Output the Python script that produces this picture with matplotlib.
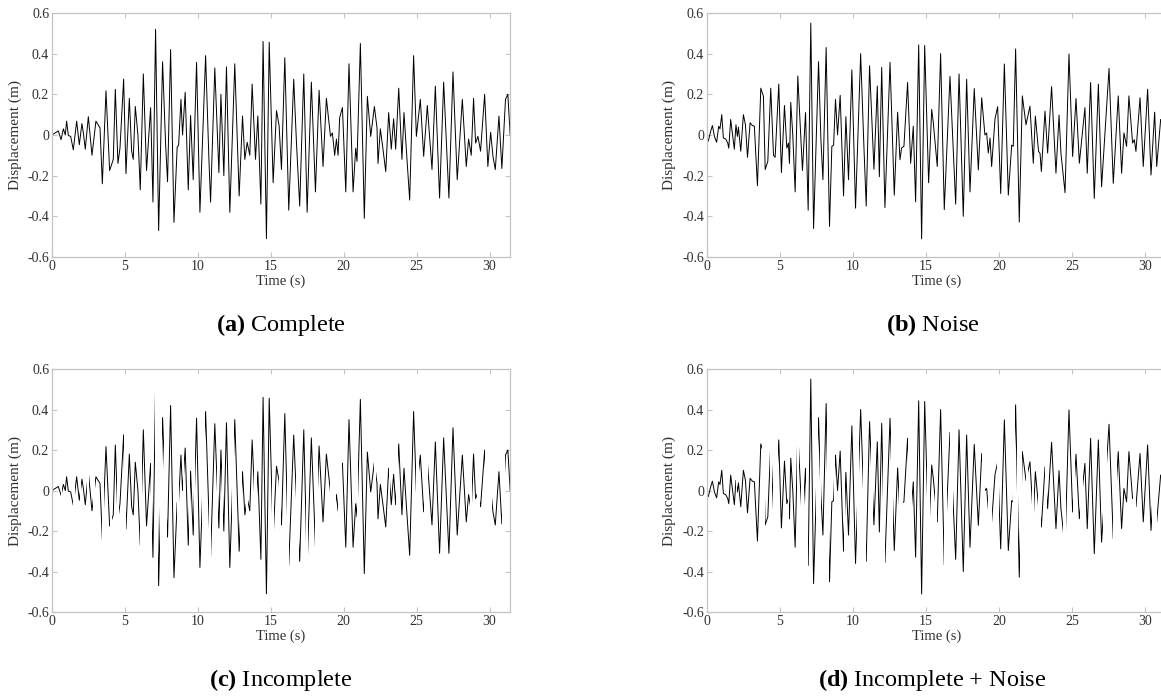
import numpy as np
import matplotlib
matplotlib.use('Agg')
import matplotlib.pyplot as plt
from matplotlib.path import Path

# displacement record, complete (turning points)
t_complete = [0.0, 0.21, 0.43, 0.62, 0.78, 0.91, 1.0, 1.12, 1.28, 1.46,
              1.69, 1.87, 2.05, 2.15, 2.28, 2.49, 2.74, 3.01, 3.29, 3.45,
              3.70, 3.95, 4.2, 4.34, 4.52, 4.66, 4.91, 5.07, 5.30, 5.46,
              5.57, 5.71, 5.89, 6.05, 6.26, 6.48, 6.76, 6.92, 7.10, 7.31,
              7.58, 7.79, 7.92, 8.13, 8.36, 8.58, 8.68, 8.84, 8.95, 9.13,
              9.34, 9.5, 9.68, 9.91, 10.14, 10.53, 10.75, 10.87, 11.16, 11.44,
              11.58, 11.78, 11.96, 12.19, 12.53, 12.83, 13.06, 13.22, 13.38, 13.56,
              13.72, 13.95, 14.11, 14.32, 14.47, 14.70, 14.89, 15.16, 15.39, 15.57,
              15.73, 15.96, 16.23, 16.57, 16.76, 16.98, 17.26, 17.49, 17.78, 18.06,
              18.31, 18.58, 18.81, 19.09, 19.22, 19.38, 19.5, 19.61, 19.72, 19.91,
              20.14, 20.36, 20.64, 20.82, 20.91, 21.14, 21.41, 21.62, 21.85, 22.1,
              22.28, 22.35, 22.51, 22.69, 22.88, 23.08, 23.26, 23.42, 23.56, 23.77,
              23.99, 24.13, 24.29, 24.52, 24.79, 24.98, 25.25, 25.48, 25.73, 26.05,
              26.28, 26.57, 26.85, 27.21, 27.49, 27.78, 28.13, 28.4, 28.56, 28.74,
              28.9, 29.04, 29.2, 29.38, 29.66, 29.88, 30.07, 30.23, 30.39, 30.64,
              30.84, 31.09, 31.25, 31.41]
d_complete = [0.0, 0.01, 0.02, -0.023, 0.03, 0.0, 0.068, -0.003, -0.007, -0.073,
              0.068, -0.048, 0.056, 0.01, -0.07, 0.09, -0.10, 0.068, 0.035, -0.24,
              0.217, -0.175, -0.12, 0.225, -0.14, -0.065, 0.275, -0.19, 0.18, -0.08,
              -0.12, 0.14, 0.0, -0.27, 0.30, -0.175, 0.134, -0.33, 0.52, -0.47,
              0.36, -0.05, -0.23, 0.42, -0.43, -0.06, -0.05, 0.175, 0.0, 0.21,
              -0.27, 0.096, -0.22, 0.357, -0.38, 0.39, -0.106, -0.33, 0.33, -0.185,
              0.20, -0.2, 0.335, -0.38, 0.35, -0.30, 0.093, -0.12, -0.036, -0.1,
              0.25, -0.12, 0.093, -0.34, 0.46, -0.51, 0.456, -0.235, 0.12, 0.045,
              -0.17, 0.38, -0.37, 0.274, -0.04, -0.35, 0.30, -0.38, 0.26, -0.28,
              0.22, -0.155, 0.18, -0.007, 0.01, -0.10, -0.02, -0.10, 0.085, 0.135,
              -0.28, 0.35, -0.28, -0.065, -0.13, 0.45, -0.41, 0.19, -0.007, 0.14,
              0.035, -0.14, 0.03, -0.07, -0.18, 0.11, -0.07, 0.08, -0.07, 0.23,
              -0.12, 0.11, -0.07, -0.32, 0.39, -0.007, 0.175, -0.105, 0.145, -0.17,
              0.24, -0.31, 0.26, -0.31, 0.31, -0.22, 0.175, -0.155, -0.02, -0.10,
              0.18, -0.04, -0.007, -0.08, 0.2, -0.155, 0.013, -0.105, -0.17, 0.093,
              -0.165, 0.175, 0.2, 0.0]

# displacement record with noise (panel b)
t_noise = [0.0, 0.11, 0.27, 0.39, 0.53, 0.68, 0.82, 0.91, 1.03, 1.14,
           1.3, 1.44, 1.51, 1.64, 1.78, 1.89, 2.0, 2.1, 2.17, 2.33,
           2.51, 2.65, 2.79, 2.97, 3.13, 3.26, 3.47, 3.7, 3.88, 4.0,
           4.18, 4.38, 4.57, 4.68, 4.93, 5.11, 5.32, 5.48, 5.59, 5.66,
           5.75, 5.89, 6.05, 6.23, 6.55, 6.76, 6.94, 7.12, 7.31, 7.65,
           7.81, 7.95, 8.17, 8.4, 8.56, 8.68, 8.81, 8.95, 9.13, 9.36,
           9.52, 9.7, 9.93, 10.18, 10.53, 10.75, 10.91, 11.14, 11.44, 11.67,
           11.81, 11.97, 12.19, 12.54, 12.83, 13.06, 13.22, 13.33, 13.49, 13.74,
           13.95, 14.13, 14.29, 14.50, 14.70, 14.91, 15.18, 15.39, 15.50, 15.77,
           16.0, 16.25, 16.64, 17.03, 17.26, 17.55, 17.78, 18.01, 18.30, 18.58,
           18.81, 19.03, 19.15, 19.26, 19.38, 19.49, 19.72, 19.90, 20.11, 20.36,
           20.63, 20.86, 20.97, 21.13, 21.38, 21.59, 21.84, 22.11, 22.34, 22.48,
           22.70, 22.80, 22.89, 23.14, 23.32, 23.59, 23.89, 24.10, 24.23, 24.51,
           24.78, 25.03, 25.26, 25.49, 25.87, 26.03, 26.26, 26.51, 26.79, 27.01,
           27.52, 27.81, 28.15, 28.38, 28.54, 28.72, 28.88, 29.13, 29.25, 29.36,
           29.64, 29.86, 30.16, 30.39, 30.64, 30.78, 31.05]
d_noise = [-0.023, -0.03, 0.018, 0.046, -0.007, -0.036, 0.043, 0.03, 0.10, -0.015,
           -0.02, -0.04, -0.065, 0.076, -0.007, -0.07, 0.05, -0.007, 0.038, -0.08,
           0.10, 0.05, -0.11, 0.06, 0.046, 0.043, -0.25, 0.23, 0.19, -0.17,
           -0.13, 0.23, -0.10, -0.11, 0.25, -0.185, 0.145, -0.065, -0.04, -0.14,
           0.16, -0.003, -0.28, 0.29, -0.175, 0.11, -0.37, 0.55, -0.46, 0.36,
           -0.02, -0.22, 0.43, -0.45, -0.056, -0.05, 0.175, 0.0, 0.195, -0.30,
           0.09, -0.22, 0.32, -0.36, 0.40, -0.05, -0.35, 0.34, -0.169, 0.241,
           -0.205, 0.332, -0.357, 0.357, -0.296, 0.112, -0.122, -0.064, -0.056, 0.258,
           -0.139, 0.043, -0.329, 0.443, -0.511, 0.44, -0.235, 0.126, 0.06, -0.155,
           0.40, -0.367, 0.288, -0.34, 0.30, -0.40, 0.274, -0.28, 0.228, -0.172,
           0.183, 0.0, 0.01, -0.089, -0.015, -0.155, 0.079, 0.139, -0.288, 0.349,
           -0.296, -0.05, -0.056, 0.423, -0.428, 0.192, 0.05, 0.142, -0.139, 0.093,
           -0.081, -0.09, -0.18, 0.117, -0.089, 0.238, -0.188, 0.098, -0.089, -0.284,
           0.398, -0.106, 0.179, -0.139, 0.134, -0.188, 0.258, -0.312, 0.25, -0.255,
           0.327, -0.238, 0.192, -0.188, 0.01, -0.056, 0.192, -0.04, -0.023, -0.081,
           0.183, -0.155, 0.225, -0.197, 0.112, -0.155, 0.076]

# missing stretches (s) in the incomplete records
gaps_incomplete = [(0.62, 0.68), (1.42, 1.55), (1.92, 2.01), (2.42, 2.51), (2.83, 2.95),
                   (3.42, 3.56), (3.97, 4.11), (4.43, 4.57), (4.95, 5.07), (6.03, 6.14),
                   (6.76, 6.85), (7.07, 7.24), (7.40, 7.51), (7.67, 7.85), (8.54, 8.70),
                   (8.95, 9.06), (9.36, 9.45), (9.73, 9.82), (10.27, 10.46), (10.75, 10.87),
                   (11.28, 11.39), (11.62, 11.74), (12.37, 12.47), (12.88, 13.01), (13.33, 13.47),
                   (13.88, 14.02), (15.05, 15.20), (15.57, 15.73), (16.12, 16.25), (16.76, 16.94),
                   (17.44, 17.58), (18.06, 18.24), (19.04, 19.45), (19.61, 19.88), (20.91, 21.0),
                   (22.05, 22.24), (23.08, 23.20), (23.56, 23.72), (24.98, 25.16), (25.48, 25.77),
                   (28.63, 28.81), (29.13, 29.36), (29.66, 29.86), (29.90, 30.18), (30.84, 31.05)]
gaps_incomplete_noise = [(2.02, 2.08), (3.81, 3.98), (4.34, 4.45), (4.52, 4.90), (5.55, 5.62),
                         (6.16, 6.28), (6.48, 6.67), (6.82, 6.94), (7.45, 7.60), (7.72, 7.80),
                         (8.25, 8.38), (8.70, 8.78), (9.40, 9.48), (10.30, 10.44), (10.71, 10.89),
                         (11.21, 11.35), (12.08, 12.22), (12.60, 12.76), (13.17, 13.40), (13.79, 14.02),
                         (15.09, 15.27), (15.61, 15.77), (16.23, 16.41), (16.64, 16.82), (18.81, 19.03),
                         (19.26, 19.49), (19.83, 19.99), (20.93, 21.09), (21.20, 21.31), (21.45, 21.59),
                         (21.84, 22.0), (22.23, 22.41), (22.68, 22.84), (23.14, 23.25), (24.39, 24.57),
                         (25.03, 25.19), (25.53, 25.76), (27.13, 27.36), (27.81, 28.04), (29.18, 29.36),
                         (30.43, 30.78)]

captions = [r'$\mathbf{(a)}$ Complete', r'$\mathbf{(b)}$ Noise',
            r'$\mathbf{(c)}$ Incomplete', r'$\mathbf{(d)}$ Incomplete + Noise']
x_ticks = [0, 5, 10, 15, 20, 25, 30]
y_ticks = [-0.6, -0.4, -0.2, 0, 0.2, 0.4, 0.6]

plt.rcParams['font.family'] = 'Liberation Serif'
plt.rcParams['mathtext.fontset'] = 'custom'
plt.rcParams['mathtext.rm'] = 'Liberation Serif'
plt.rcParams['mathtext.bf'] = 'Liberation Serif:bold'
plt.rcParams['axes.unicode_minus'] = False

GRAY = '#c4c4c4'
TXT = '#303030'


def kept_region(gaps, t_end=40.0):
    # rectangles covering the parts of the record that were kept
    edges = [-1.0] + [g for pair in gaps for g in pair] + [t_end]
    verts, codes = [], []
    for a, b in zip(edges[0::2], edges[1::2]):
        verts += [(a, -1), (b, -1), (b, 1), (a, 1), (a, -1)]
        codes += [Path.MOVETO, Path.LINETO, Path.LINETO, Path.LINETO, Path.CLOSEPOLY]
    return Path(verts, codes)


def panel(rect, t, d, caption, cap_xy, gaps=None):
    ax = fig.add_axes(rect)
    line, = ax.plot(t, d, color='black', lw=0.7)
    if gaps is not None:
        line.set_clip_path(kept_region(gaps), ax.transData)
    ax.set_xlim(0, 31.4)
    ax.set_ylim(-0.6, 0.6)
    ax.set_xticks(x_ticks)
    ax.set_yticks(y_ticks)
    ax.set_yticklabels(['%g' % v for v in y_ticks])
    ax.tick_params(direction='in', length=3.5, width=0.8, color=GRAY,
                   labelcolor=TXT, labelsize=10, top=True, right=True, pad=2)
    for s in ax.spines.values():
        s.set_color(GRAY)
        s.set_linewidth(0.9)
    ax.set_xlabel('Time (s)', fontsize=10.5, color=TXT, labelpad=1)
    ax.set_ylabel('Displacement (m)', fontsize=11, color=TXT, labelpad=4)
    fig.text(cap_xy[0], cap_xy[1], caption, fontsize=17.5, ha='center', va='center')
    return ax


fig = plt.figure(figsize=(11.61, 7.0), dpi=100)

panel([0.0448, 0.6329, 0.3945, 0.3486], t_complete, d_complete, captions[0], (0.242, 0.536))
panel([0.6087, 0.6329, 0.3954, 0.3486], t_noise, d_noise, captions[1], (0.803, 0.536))
panel([0.0448, 0.1257, 0.3945, 0.3471], t_complete, d_complete, captions[2], (0.242, 0.029),
      gaps=gaps_incomplete)
panel([0.6087, 0.1257, 0.3954, 0.3471], t_noise, d_noise, captions[3], (0.803, 0.029),
      gaps=gaps_incomplete_noise)

fig.savefig('out.png', dpi=100)
